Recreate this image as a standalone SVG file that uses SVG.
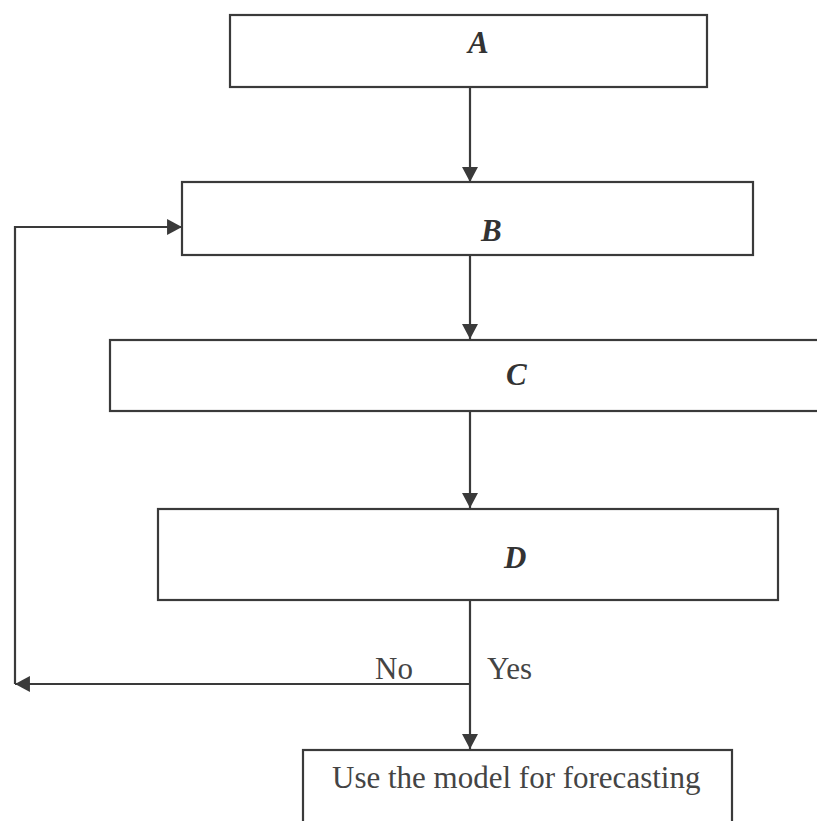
<svg xmlns="http://www.w3.org/2000/svg" width="817" height="821" viewBox="0 0 817 821">
  <defs>
    <style>
      .box { fill: #ffffff; stroke: #3a3a3a; stroke-width: 2.2; }
      .conn { fill: none; stroke: #3a3a3a; stroke-width: 2.2; }
      .letter { font-family: "Liberation Serif", "Times New Roman", serif; font-weight: bold; font-style: italic; font-size: 31px; fill: #333333; }
      .label { font-family: "Liberation Serif", "Times New Roman", serif; font-size: 31px; fill: #444444; }
    </style>
    <marker id="arrow" markerUnits="userSpaceOnUse" markerWidth="16" markerHeight="16" viewBox="0 0 14 15" refX="14" refY="7.5" orient="auto">
      <path d="M0,0 L14,7.5 L0,15 Z" fill="#3a3a3a"/>
    </marker>
  </defs>
  <rect width="817" height="821" fill="#ffffff"/>

  <g id="connectors">
    <line class="conn" x1="470" y1="88" x2="470" y2="182" marker-end="url(#arrow)"/>
    <line class="conn" x1="470" y1="255" x2="470" y2="339" marker-end="url(#arrow)"/>
    <line class="conn" x1="470" y1="411" x2="470" y2="508" marker-end="url(#arrow)"/>
    <line class="conn" x1="470" y1="600" x2="470" y2="749" marker-end="url(#arrow)"/>
    <line class="conn" x1="470" y1="684" x2="15" y2="684" marker-end="url(#arrow)"/>
    <polyline class="conn" points="15,684 15,227 182,227" marker-end="url(#arrow)"/>
  </g>

  <g id="node-A">
    <rect class="box" x="230" y="15" width="477" height="72"/>
    <text class="letter" x="468" y="53">A</text>
  </g>
  <g id="node-B">
    <rect class="box" x="182" y="182" width="571" height="73"/>
    <text class="letter" x="481" y="241">B</text>
  </g>
  <g id="node-C">
    <rect class="box" x="110" y="340" width="720" height="71"/>
    <text class="letter" x="506" y="385">C</text>
  </g>
  <g id="node-D">
    <rect class="box" x="158" y="509" width="620" height="91"/>
    <text class="letter" x="504" y="568">D</text>
  </g>
  <g id="node-forecast">
    <rect class="box" x="303" y="750" width="429" height="90"/>
    <text class="label" x="332" y="788">Use the model for forecasting</text>
  </g>
  <g id="labels">
    <text class="label" x="375" y="679">No</text>
    <text class="label" x="487" y="679">Yes</text>
  </g>
</svg>
